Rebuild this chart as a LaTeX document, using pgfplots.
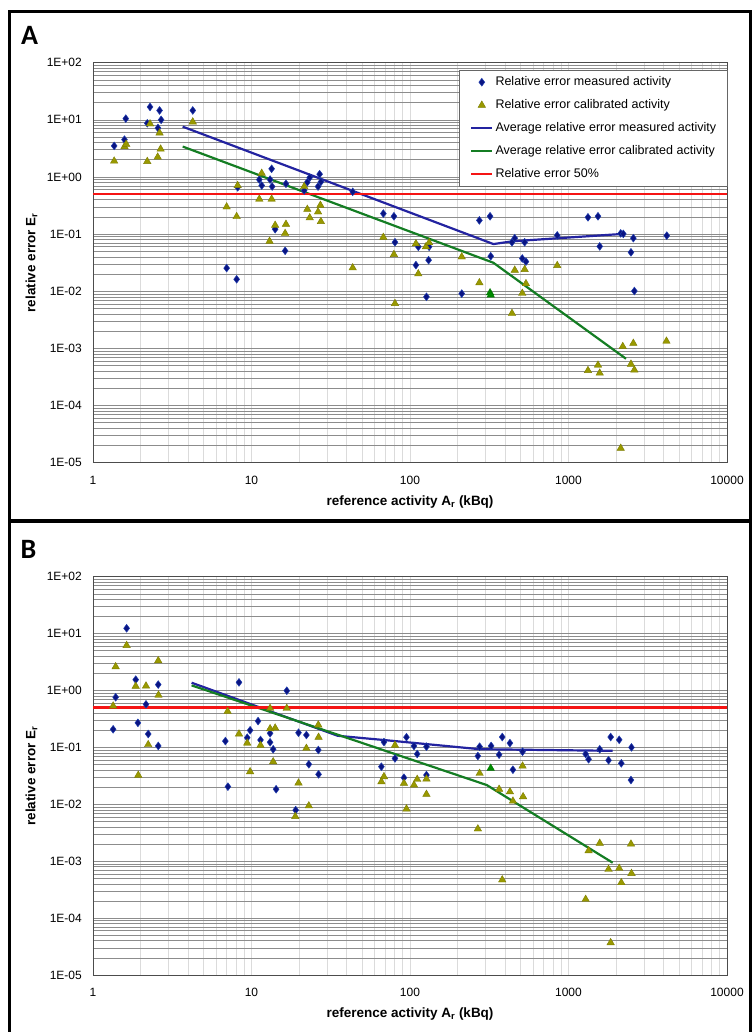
\documentclass[border=0pt]{standalone}
\usepackage{pgfplots}
\pgfplotsset{compat=1.18}
\usepackage{fontspec}
\setmainfont{Liberation Sans}
\newfontfamily\panelfont{Carlito}

\definecolor{mblue}{RGB}{10,20,130}
\definecolor{mbluee}{RGB}{30,60,175}
\definecolor{olv}{RGB}{153,153,0}
\definecolor{olvd}{RGB}{125,125,0}
\definecolor{lblue}{RGB}{35,35,160}
\definecolor{lgreen}{RGB}{20,125,35}
\definecolor{lred}{RGB}{245,20,20}

\pgfplotsset{
  mleg/.style={legend image code/.code={\draw[mark repeat=2,mark phase=2,##1] plot coordinates {(0pt,0pt)(10.5pt,0pt)(21pt,0pt)};}},
  lleg/.style={legend image code/.code={\draw[##1] (0pt,0pt) -- (21pt,0pt);}},
  meas/.style={only marks, mark=diamond*, mark size=3.9pt, mark options={fill=mblue, draw=mbluee, line width=0.5pt}, mleg},
  cal/.style={only marks, mark=triangle*, mark size=4.3pt, mark options={fill=olv, draw=olvd, line width=0.4pt}, mleg},
  calg/.style={only marks, mark=triangle*, mark size=4.3pt, mark options={fill=green!55!black, draw=green!45!black, line width=0.4pt}, forget plot},
  every axis/.append style={
    scale only axis, width=634pt,
    xmin=1, xmax=10000, ymin=1e-5, ymax=100,
    xtick={1,10,100,1000,10000}, xticklabels={1,10,100,1000,10000},
    ytick={1e-5,1e-4,1e-3,1e-2,1e-1,1,10,100},
    yticklabels={1E-05,1E-04,1E-03,1E-02,1E-01,1E+00,1E+01,1E+02},
    minor xtick={2,3,4,5,6,7,8,9,20,30,40,50,60,70,80,90,200,300,400,500,600,700,800,900,2000,3000,4000,5000,6000,7000,8000,9000},
    minor ytick={2e-5,3e-5,4e-5,5e-5,6e-5,7e-5,8e-5,9e-5,
      2e-4,3e-4,4e-4,5e-4,6e-4,7e-4,8e-4,9e-4,
      0.002,0.003,0.004,0.005,0.006,0.007,0.008,0.009,
      0.02,0.03,0.04,0.05,0.06,0.07,0.08,0.09,
      0.2,0.3,0.4,0.5,0.6,0.7,0.8,0.9,
      2,3,4,5,6,7,8,9,20,30,40,50,60,70,80,90},
    grid=both,
    major tick length=0pt, minor tick length=0pt,
    axis line style={black!70, line width=0.8pt},
    tick label style={font=\fontsize{12}{14}\selectfont},
    yticklabel style={anchor=east, inner sep=0pt, xshift=-11pt},
    xticklabel style={anchor=north, inner sep=0pt, yshift=-13pt},
    label style={font=\bfseries\fontsize{13.5}{16}\selectfont, inner sep=0pt},
    ylabel style={at={(axis description cs:-0.097,0.5)}, anchor=center},
  },
  every minor grid/.style={},
  every major grid/.style={black!60, line width=0.7pt},
  x grid style={black!14, line width=0.9pt},
  y grid style={black!45, line width=0.6pt},
}

\begin{document}
\begin{tikzpicture}
\path[use as bounding box] (0,0) rectangle (752pt,1032pt);

% panel frames
\draw[line width=3pt] (9pt,0pt) -- (9pt,1020.5pt) -- (750.5pt,1020.5pt) -- (750.5pt,0pt);
\draw[line width=3.5pt] (9pt,511pt) -- (750.5pt,511pt);
\node[font=\panelfont\bfseries\fontsize{28}{30}\selectfont] at (29.5pt,996.5pt) {A};
\node[font=\panelfont\bfseries\fontsize{28}{30}\selectfont] at (28.5pt,483pt) {B};

% ---------------- panel A ----------------
\begin{axis}[xmode=log, ymode=log, at={(93pt,569.3pt)}, anchor=south west, height=400pt,
  xlabel={reference activity A\textsubscript{r} (kBq)},
  ylabel={relative error E\textsubscript{r}},
  xlabel style={at={(axis description cs:0.5,-0.0975)}, anchor=center},
  legend style={at={(rel axis cs:0.577,0.982)}, anchor=north west,
    draw=black!60, fill=white, line width=0.6pt,
    font=\fontsize{12.5}{14}\selectfont,
    inner xsep=11pt, inner ysep=6pt, row sep=11pt,
    nodes={inner sep=0pt, text height=9pt, text depth=3pt},
    /tikz/every odd column/.append style={column sep=2pt}},
  legend cell align=left]
\addplot[meas] coordinates {
 (1.36,3.5) (1.58,4.5) (1.61,10.5) (2.29,16.8) (2.2,8.7) (2.63,14.6) (2.69,10.0)
 (2.57,7.2) (4.26,14.6) (8.18,0.66) (6.97,0.0254) (8.06,0.0162) (11.2,0.90)
 (11.6,0.71) (13.4,1.39) (13.1,0.90) (13.5,0.68) (16.5,0.76) (14.1,0.122)
 (16.3,0.051) (21.5,0.58) (22.5,0.81) (23.3,0.98) (26.9,1.12) (27.4,0.82)
 (26.3,0.68) (43.5,0.55) (67.9,0.229) (79.2,0.205) (80.4,0.072) (112.8,0.060)
 (132,0.060) (109,0.0287) (131,0.035) (127,0.0080) (212,0.0091) (274,0.174)
 (320,0.205) (323,0.041) (440,0.072) (458,0.085) (529,0.072) (511,0.0375)
 (539,0.033) (849,0.095) (1327,0.197) (1535,0.205) (1574,0.061) (2135,0.103)
 (2217,0.101) (2565,0.085) (2478,0.048) (2603,0.0101) (4168,0.094)};
\addlegendentry{Relative error measured activity}
\addplot[cal] coordinates {
 (1.36,1.90) (1.58,3.4) (1.62,3.75) (2.2,1.87) (2.29,8.5) (2.56,2.23) (2.67,3.08)
 (2.63,5.9) (4.26,9.2) (6.97,0.30) (8.06,0.203) (8.18,0.71) (11.2,0.41)
 (11.6,1.16) (13.4,0.41) (13.0,0.075) (14.1,0.143) (16.3,0.103) (16.5,0.149)
 (21.5,0.68) (22.5,0.272) (23.3,0.193) (26.3,0.245) (27.2,0.32) (27.4,0.166)
 (43.5,0.0257) (67.9,0.088) (79.2,0.044) (80.4,0.0061) (109,0.068) (112.8,0.0202)
 (126,0.060) (132,0.071) (212,0.040) (274,0.0141) (440,0.0041)
 (458,0.0234) (529,0.0241) (539,0.0136) (511,0.0092) (849,0.0282) (2200,0.00108)
 (2565,0.00123) (4150,0.00134) (1327,0.00041) (1535,0.00051) (1574,0.00037)
 (2478,0.00053) (2603,0.00042) (2135,1.79e-5)};
\addlegendentry{Relative error calibrated activity}
\addplot[calg] coordinates {(320,0.0094) (323,0.0086)};
\addplot[lblue, line width=2.2pt, no marks, lleg] coordinates {(3.68,7.6) (336,0.067) (445,0.075) (2100,0.100)};
\addlegendentry{Average relative error measured activity}
\addplot[lgreen, line width=2.2pt, no marks, lleg] coordinates {(3.68,3.41) (336,0.0315) (2305,0.00066)};
\addlegendentry{Average relative error calibrated activity}
\addplot[lred, line width=2.4pt, no marks, lleg] coordinates {(1,0.5) (10000,0.5)};
\addlegendentry{Relative error 50\%}
\end{axis}

% ---------------- panel B ----------------
\begin{axis}[xmode=log, ymode=log, at={(93pt,57pt)}, anchor=south west, height=398.3pt,
  xlabel={reference activity A\textsubscript{r} (kBq)},
  ylabel={relative error E\textsubscript{r}},
  xlabel style={at={(axis description cs:0.5,-0.098)}, anchor=center}]
\addplot[meas] coordinates {
 (1.63,12.4) (1.39,0.76) (1.34,0.208) (1.86,1.55) (2.16,0.571) (1.92,0.27)
 (2.23,0.172) (2.58,1.27) (2.58,0.106) (8.34,1.39) (6.84,0.129) (16.7,0.99)
 (11.0,0.29) (9.8,0.2) (9.4,0.148) (11.4,0.135) (13.1,0.177) (13.1,0.123)
 (13.7,0.0927) (19.8,0.181) (22.2,0.165) (26.4,0.09) (23.0,0.0505) (26.5,0.0336)
 (7.1,0.0204) (14.3,0.0184) (19.0,0.0079) (68.5,0.124) (95,0.151) (66,0.0458)
 (80.4,0.064) (106,0.106) (111,0.0766) (127,0.103) (91.6,0.0293) (127,0.0327)
 (275,0.103) (268,0.0706) (325,0.106) (365,0.0745) (382,0.152) (427,0.119)
 (513,0.084) (446,0.0405) (1283,0.0766) (1339,0.0618) (1574,0.0927) (1846,0.152)
 (2089,0.136) (1789,0.0593) (2154,0.0525) (2497,0.1) (2478,0.0267)};
\addplot[cal] coordinates {
 (1.63,6.2) (1.39,2.62) (1.34,0.535) (1.86,1.19) (2.16,1.2) (2.58,3.34) (2.59,0.83)
 (2.23,0.112) (1.93,0.0324) (7.07,0.43) (8.34,0.172) (9.4,0.119) (11.4,0.109)
 (9.8,0.0374) (13.1,0.213) (14.1,0.219) (13.1,0.486) (16.7,0.486) (13.7,0.056)
 (26.4,0.248) (26.5,0.151) (22.2,0.0964) (19.8,0.0237) (18.9,0.0061) (23.0,0.0094)
 (80.4,0.109) (68.5,0.0306) (66,0.0249) (91.6,0.0234) (106,0.0218) (111,0.0275)
 (127,0.0278) (127,0.015) (95,0.0083) (275,0.035) (268,0.0037) (365,0.0184)
 (427,0.0166) (446,0.0114) (513,0.047) (517,0.0136) (382,0.00047) (1339,0.00153)
 (1574,0.00207) (2478,0.002) (1789,0.00072) (2089,0.00075) (2497,0.00061)
 (2154,0.00042) (1283,0.000214) (1845,3.7e-5)};
\addplot[calg] coordinates {(323,0.043)};
\addplot[lblue, line width=2.2pt, no marks] coordinates {(4.19,1.37) (35,0.16) (68,0.135) (275,0.093) (1900,0.087)};
\addplot[lgreen, line width=2.2pt, no marks] coordinates {(4.19,1.23) (305,0.0218) (1900,0.00094)};
\addplot[lred, line width=2.4pt, no marks] coordinates {(1,0.5) (10000,0.5)};
\end{axis}
\end{tikzpicture}
\end{document}
